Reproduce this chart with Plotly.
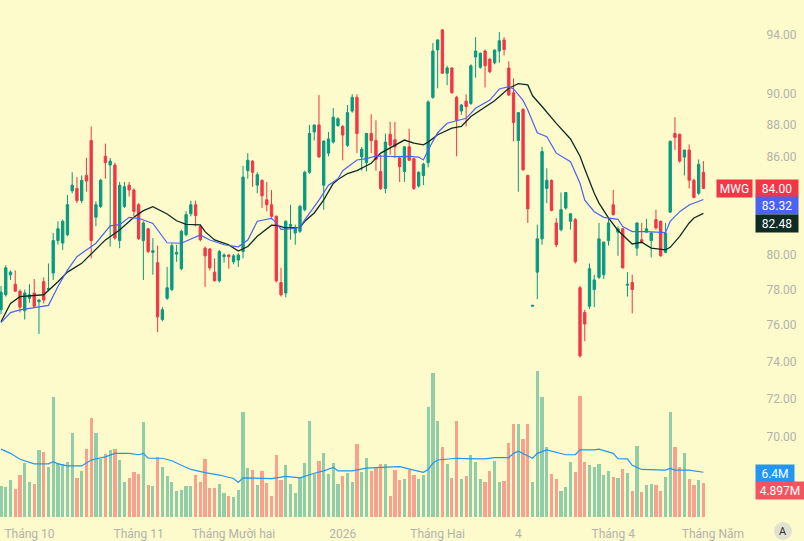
import math
import plotly.graph_objects as go

# ---------------- data ----------------
tick_pos = [6, 29, 49, 72, 92, 109, 129, 150]
tick_text = ["Tháng 10", "Tháng 11", "Tháng Mười hai", "2026", "Tháng Hai", "4", "Tháng 4", "Tháng Năm"]
price_ticks = [94, 90, 88, 86, 80, 78, 76, 74, 72, 70]

opens = [76.85, 77.7, 78.85, 78.3, 77.9, 76.8, 77.5, 77.8, 77.3, 78.45,
         78.0, 78.95, 80.85, 80.7, 81.2, 83.85, 84.0, 83.25, 84.8, 87.0,
         82.25, 82.9, 86.0, 85.45, 85.45, 80.85, 82.9, 84.2, 83.9, 83.0,
         80.85, 81.55, 80.15, 79.55, 76.3, 77.5, 78.0, 80.05, 79.2, 81.2,
         82.45, 83.0, 81.7, 80.4, 80.35, 79.0, 78.5, 79.9, 80.0, 79.6,
         79.7, 80.2, 85.1, 85.7, 84.2, 84.5, 83.3, 83.0, 82.3, 78.4,
         77.8, 81.7, 81.3, 81.4, 82.7, 85.0, 87.55, 88.0, 84.2, 86.2,
         86.9, 87.95, 87.9, 86.7, 88.9, 89.8, 85.96, 85.6, 87.45, 87.0,
         85.05, 84.0, 87.4, 87.05, 85.9, 85.05, 86.6, 85.85, 84.15, 84.8,
         85.6, 89.8, 92.97, 94.35, 91.4, 91.75, 89.8, 88.9, 89.55, 89.4,
         92.5, 91.8, 92.9, 92.35, 92.1, 92.9, 93.65, 91.75, 90.1, 87.0,
         89.0, 84.8, 77.05, 79.0, 80.95, 84.0, 84.5, 81.9, 81.5, 82.8,
         82.0, 82.1, 78.1, 76.7, 77.05, 78.0, 78.7, 78.85, 80.85, 83.0,
         81.35, 81.55, 78.25, 78.4, 80.4, 80.9, 81.35, 80.85, 82.1, 82.0,
         80.15, 82.55, 87.45, 87.4, 85.95, 86.4, 84.5, 83.7, 85.0]
highs = [78.2, 79.4, 79.1, 79.1, 78.0, 78.0, 78.3, 78.6, 77.45, 78.7,
         79.5, 81.3, 82.0, 82.1, 83.6, 85.0, 84.7, 84.8, 85.9, 87.9,
         83.2, 84.6, 86.8, 85.9, 85.6, 84.4, 84.4, 84.4, 84.0, 83.1,
         82.0, 81.6, 81.0, 80.55, 77.0, 79.3, 80.7, 80.6, 81.5, 82.6,
         83.25, 83.25, 81.8, 80.5, 80.4, 79.8, 80.3, 80.1, 80.05, 80.05,
         80.1, 85.4, 86.2, 85.75, 85.0, 84.55, 84.4, 83.9, 82.35, 79.25,
         82.05, 83.0, 81.8, 83.0, 85.1, 88.0, 88.0, 89.95, 87.0, 87.55,
         89.1, 88.5, 88.0, 89.3, 90.0, 90.0, 86.6, 87.5, 88.7, 88.3,
         86.1, 87.45, 88.2, 88.2, 86.0, 86.65, 87.75, 85.9, 85.05, 85.6,
         89.6, 93.45, 93.7, 94.4, 91.9, 91.8, 89.9, 89.35, 90.0, 92.0,
         93.85, 92.8, 93.0, 92.4, 93.0, 94.2, 93.85, 92.2, 91.05, 88.8,
         89.1, 84.85, 77.1, 81.8, 86.6, 85.25, 84.55, 82.2, 83.75, 83.75,
         82.5, 82.2, 78.2, 76.85, 79.5, 78.85, 81.9, 80.8, 82.25, 83.9,
         81.7, 81.6, 79.0, 78.85, 81.95, 81.9, 82.15, 81.35, 82.7, 82.05,
         81.9, 87.0, 88.5, 87.45, 86.4, 86.75, 84.6, 85.8, 85.7]
lows = [76.6, 77.6, 78.55, 77.9, 76.7, 76.3, 77.25, 77.0, 75.5, 77.2,
        78.0, 78.55, 80.6, 80.3, 81.1, 83.7, 83.1, 83.1, 83.8, 79.8,
        81.7, 82.8, 84.6, 80.5, 80.9, 80.4, 82.8, 83.5, 82.3, 80.9,
        78.55, 80.1, 78.85, 75.6, 76.2, 77.4, 77.9, 79.6, 79.1, 81.1,
        82.3, 81.7, 80.8, 78.15, 79.1, 78.45, 78.4, 79.55, 79.2, 79.45,
        79.3, 79.8, 84.6, 84.1, 83.7, 82.8, 82.6, 82.2, 78.4, 77.6,
        77.55, 80.9, 80.6, 81.3, 82.6, 84.9, 87.0, 85.9, 82.7, 86.0,
        86.8, 87.9, 85.75, 86.6, 88.8, 86.2, 85.1, 85.05, 86.2, 85.1,
        83.9, 83.7, 86.1, 85.9, 84.4, 84.4, 85.7, 83.9, 84.05, 84.2,
        85.3, 89.7, 90.4, 91.35, 90.6, 90.05, 86.0, 88.65, 87.9, 89.3,
        91.1, 91.7, 90.45, 91.4, 92.0, 92.1, 92.6, 89.9, 86.95, 83.8,
        85.1, 81.9, 77.05, 77.45, 80.6, 83.1, 82.6, 80.45, 81.4, 82.7,
        81.5, 79.5, 74.2, 75.1, 76.9, 77.0, 78.6, 78.6, 80.55, 82.35,
        79.95, 79.2, 77.6, 76.65, 79.95, 80.7, 81.3, 79.85, 81.5, 79.9,
        80.1, 82.5, 86.4, 85.6, 84.8, 84.0, 83.4, 83.6, 84.0]
closes = [77.85, 79.25, 79.0, 77.9, 77.0, 77.8, 77.7, 77.05, 77.4, 77.4,
          78.05, 80.85, 81.55, 82.0, 83.0, 84.2, 83.25, 84.5, 84.45, 80.85,
          83.0, 84.5, 85.6, 85.7, 81.0, 84.2, 84.1, 83.9, 82.6, 80.95,
          81.9, 80.2, 80.25, 76.45, 76.85, 78.1, 80.55, 80.15, 81.4, 82.4,
          83.0, 82.35, 80.9, 79.95, 79.25, 78.5, 80.2, 80.0, 79.9, 79.95,
          80.0, 84.7, 85.75, 85.0, 84.85, 83.55, 83.0, 82.3, 78.5, 77.7,
          82.0, 81.8, 81.6, 82.9, 85.0, 87.45, 88.0, 85.96, 86.97, 87.1,
          88.5, 88.4, 87.35, 88.8, 89.8, 87.45, 86.45, 87.45, 87.0, 85.8,
          84.0, 86.9, 86.7, 86.6, 85.35, 86.6, 85.75, 84.0, 85.0, 85.5,
          89.5, 92.9, 93.66, 91.4, 91.75, 90.1, 88.3, 89.3, 89.2, 91.9,
          92.9, 92.75, 91.9, 91.5, 92.97, 93.6, 93.0, 89.95, 88.15, 88.8,
          85.15, 82.75, 77.1, 80.95, 86.3, 84.5, 82.65, 80.6, 82.7, 83.75,
          82.45, 79.6, 74.3, 76.05, 79.2, 78.55, 80.95, 80.75, 81.9, 82.4,
          81.55, 79.25, 78.3, 78.0, 81.9, 80.75, 81.55, 81.3, 81.6, 79.95,
          81.3, 86.95, 87.2, 85.7, 86.4, 84.5, 83.45, 85.5, 84.0]
volumes = [4.4, 4.3, 5.3, 4.0, 6.0, 7.7, 5.0, 4.7, 9.6, 9.3,
           7.2, 17.2, 7.7, 7.6, 7.9, 12.0, 5.6, 6.6, 9.7, 14.2,
           12.0, 8.3, 9.0, 9.6, 9.7, 8.2, 5.0, 5.6, 6.4, 6.1,
           13.6, 4.6, 4.4, 8.6, 7.2, 5.9, 5.0, 3.7, 3.9, 4.4,
           4.4, 6.0, 5.0, 8.3, 4.1, 4.1, 4.7, 3.4, 3.0, 2.9,
           3.9, 15.0, 7.0, 6.7, 4.6, 6.6, 4.9, 3.0, 8.9, 5.3,
           7.4, 4.7, 3.4, 5.6, 7.7, 13.7, 6.1, 8.0, 9.2, 6.1,
           7.7, 4.7, 5.9, 6.3, 5.0, 10.4, 6.4, 8.4, 6.6, 7.0,
           7.6, 7.6, 3.0, 6.7, 5.3, 5.4, 6.7, 6.0, 5.4, 6.0,
           15.7, 20.6, 13.7, 10.0, 7.6, 5.6, 13.7, 5.4, 5.9, 8.9,
           7.9, 5.4, 5.0, 6.6, 8.0, 5.0, 5.1, 10.6, 13.3, 13.3,
           11.2, 13.3, 5.0, 20.9, 17.2, 10.0, 6.1, 5.4, 3.7, 4.3,
           7.9, 6.4, 17.3, 7.9, 7.4, 7.2, 7.6, 6.0, 6.6, 5.7,
           5.6, 6.9, 6.3, 3.7, 10.2, 3.6, 4.6, 4.7, 4.6, 3.7,
           5.7, 15.0, 10.0, 7.2, 9.2, 5.4, 4.6, 5.3, 4.897]

ma_fast_idx = [0, 2, 4, 7, 10, 12, 14, 16, 18, 20, 23, 25, 27, 29, 32, 35, 38, 40, 42, 44,
               47, 50, 52, 54, 57, 58, 59, 61, 63, 64, 66, 67, 69, 71, 72, 75, 77, 79, 83, 86,
               88, 89, 90, 92, 94, 96, 98, 100, 103, 105, 107, 108, 110, 111, 113, 115, 117, 120, 122, 123,
               125, 127, 129, 130, 131, 133, 136, 139, 140, 141, 143, 145, 147, 148]
ma_fast = [76.13, 76.69, 76.84, 76.99, 77.1, 78.17, 79.12, 79.9, 80.29, 80.69, 81.73, 81.8, 82.24, 82.18, 81.87, 80.72, 80.69, 80.93, 81.18, 80.88,
           80.6, 80.48, 80.88, 82.0, 82.18, 81.91, 81.52, 81.54, 81.64, 82.08, 82.88, 83.28, 84.2, 84.6, 85.1, 85.77, 85.85, 86.02, 85.98, 86.0,
           85.95, 85.77, 86.4, 87.5, 88.11, 88.27, 88.43, 89.08, 89.62, 90.35, 90.5, 90.35, 89.6, 88.97, 87.5, 87.25, 86.2, 85.66, 84.32, 83.28,
           82.58, 82.24, 82.18, 82.12, 81.68, 81.38, 81.38, 81.33, 81.32, 82.0, 82.58, 82.99, 83.2, 83.32]

ma_slow_idx = [0, 2, 4, 7, 9, 12, 14, 17, 19, 22, 25, 28, 30, 32, 35, 37, 39, 42, 43, 45,
               48, 50, 52, 54, 57, 58, 60, 63, 64, 66, 68, 70, 71, 73, 75, 78, 80, 83, 85, 87,
               89, 90, 92, 95, 97, 99, 103, 104, 107, 109, 111, 112, 114, 117, 120, 121, 122, 123, 125, 126,
               128, 130, 133, 135, 137, 140, 141, 143, 145, 146, 148]
ma_slow = [76.18, 77.21, 77.59, 77.64, 77.7, 78.45, 79.0, 79.51, 80.05, 80.89, 81.48, 82.24, 82.64, 82.88, 82.44, 82.03, 81.82, 81.78, 81.38, 80.89,
           80.59, 80.23, 80.5, 81.1, 81.77, 81.75, 81.6, 81.64, 82.0, 82.5, 83.3, 84.3, 84.55, 84.92, 85.1, 85.56, 86.2, 86.73, 87.03, 86.83,
           86.73, 86.9, 87.37, 87.8, 87.9, 88.55, 89.4, 89.57, 90.4, 90.7, 90.62, 89.9, 89.2, 88.1, 87.1, 86.5, 86.0, 85.2, 83.7, 83.1,
           82.2, 81.45, 80.65, 80.75, 80.4, 80.3, 80.45, 81.1, 81.9, 82.2, 82.48]

vol_ma_idx = [0, 2, 4, 7, 10, 11, 12, 14, 17, 19, 22, 24, 27, 29, 30, 31, 34, 36, 38, 40,
              43, 46, 49, 50, 51, 55, 57, 60, 63, 66, 68, 70, 71, 74, 77, 80, 84, 87, 89, 90,
              91, 92, 94, 96, 98, 102, 104, 107, 108, 109, 112, 113, 115, 117, 119, 121, 122, 125, 126, 129,
              130, 132, 133, 135, 138, 140, 141, 142, 145, 147, 148]
vol_ma = [9.7, 9.1, 8.25, 7.6, 7.6, 7.9, 7.6, 7.3, 7.3, 8.15, 8.6, 9.1, 9.1, 8.9, 9.1, 8.4, 8.4, 8.05, 7.4, 6.8,
          6.35, 6.0, 5.5, 4.95, 5.6, 5.5, 5.5, 5.8, 5.6, 6.25, 6.6, 7.1, 6.6, 6.6, 7.0, 7.1, 7.2, 6.7, 6.4, 6.8,
          7.7, 8.15, 8.3, 8.4, 8.35, 8.3, 8.5, 8.5, 9.1, 9.4, 8.4, 9.1, 9.6, 9.2, 8.9, 8.9, 9.6, 9.6, 9.7, 9.1,
          8.35, 8.3, 7.4, 6.8, 6.7, 6.7, 6.95, 6.7, 6.7, 6.5, 6.4]

symbol = "MWG"

# ---------------- styling ----------------
BG = "#FDFACB"
UP = "#089981"
DN = "#F23645"
UP_VOL = "rgba(8,153,129,0.45)"
DN_VOL = "rgba(242,54,69,0.45)"
FAST_C = "#4B63F2"
SLOW_C = "#0E2B24"
VOLMA_C = "#2196F3"
AXIS_TXT = "#B3B3AC"
FONT = "Roboto"

n = len(closes)
idx = list(range(n))
vol_colors = [UP_VOL if c >= o else DN_VOL for o, c in zip(opens, closes)]

fig = go.Figure()

fig.add_trace(go.Bar(x=idx, y=volumes, marker=dict(color=vol_colors, line=dict(width=0)),
                     width=0.68, yaxis="y", hoverinfo="skip", showlegend=False))
fig.add_trace(go.Scatter(x=vol_ma_idx, y=vol_ma, mode="lines", yaxis="y",
                         line=dict(color=VOLMA_C, width=1.2), showlegend=False))

fig.add_trace(go.Candlestick(
    x=idx, open=opens, high=highs, low=lows, close=closes, yaxis="y2",
    increasing=dict(line=dict(color=UP, width=1), fillcolor=UP),
    decreasing=dict(line=dict(color=DN, width=1), fillcolor=DN),
    whiskerwidth=0, showlegend=False))

fig.add_trace(go.Scatter(x=ma_slow_idx, y=ma_slow, mode="lines", yaxis="y2",
                         line=dict(color=SLOW_C, width=1.3), showlegend=False))
fig.add_trace(go.Scatter(x=ma_fast_idx, y=ma_fast, mode="lines", yaxis="y2",
                         line=dict(color=FAST_C, width=1.2), showlegend=False))

W, H = 804, 541
ML, MR, MT, MB = 0, 49, 0, 24
plot_w = W - ML - MR
plot_h = H - MT - MB
vol_top = plot_h * 0.143

last_close = closes[-1]
last_vol = volumes[-1]
last_fast = ma_fast[-1]
last_slow = ma_slow[-1]
last_volma = vol_ma[-1]

fig.add_shape(type="line", xref="paper", yref="y2", x0=0, x1=0.949,
              y0=math.log10(last_close), y1=math.log10(last_close),
              line=dict(color=DN, width=1, dash="dot"))

ann = []
def tag(text, yval, bg, yref="y2", yshift=0, width=38, x=1.0, xanchor="left", xshift=0):
    yy = math.log10(yval) if yref == "y2" else yval
    ann.append(dict(text=text, x=x, xref="paper", xanchor=xanchor, xshift=xshift,
                    y=yy, yref=yref, yanchor="middle", yshift=yshift,
                    showarrow=False, bgcolor=bg, width=width, height=13, borderpad=2,
                    font=dict(family=FONT, size=12, color="white"), align="center"))

tag(symbol, last_close, DN, width=31, xanchor="right", xshift=-2)
tag(f"{last_close:.2f}", last_close, DN)
tag(f"{last_fast:.2f}", last_fast, FAST_C, yshift=-6)
tag(f"{last_slow:.2f}", last_slow, SLOW_C, yshift=-10)
tag(f"{last_volma:.1f}M", last_volma, VOLMA_C, yref="y", yshift=-1, width=34)
tag(f"{last_vol:.3f}M", last_vol, "#F7525F", yref="y", yshift=-8, width=44)

# small "A" (auto-scale) button in the bottom-right corner
fig.add_shape(type="circle", xref="paper", yref="paper",
              x0=774 / plot_w, x1=792 / plot_w,
              y0=-(540 - plot_h) / plot_h, y1=-(522 - plot_h) / plot_h,
              fillcolor="#E2E0CE", line=dict(width=0), layer="below")
ann.append(dict(text="A", x=783 / plot_w, xref="paper", xanchor="center",
                y=-(531 - plot_h) / plot_h, yref="paper", yanchor="middle",
                showarrow=False, font=dict(family=FONT, size=11, color="#333333")))

fig.update_layout(
    width=W, height=H, margin=dict(l=ML, r=MR, t=MT, b=MB),
    paper_bgcolor=BG, plot_bgcolor=BG, showlegend=False,
    annotations=ann, bargap=0,
    xaxis=dict(range=[-0.211, 158.87], tickvals=tick_pos, ticktext=tick_text,
               showgrid=False, zeroline=False, showline=False,
               ticks="outside", ticklen=6, tickcolor=BG,
               tickfont=dict(family=FONT, size=12, color=AXIS_TXT),
               rangeslider=dict(visible=False), fixedrange=True),
    yaxis=dict(range=[0, vol_top], visible=False, fixedrange=True),
    yaxis2=dict(type="log", overlaying="y", side="right",
                range=[math.log10(66.02), math.log10(96.44)],
                tickvals=price_ticks, ticktext=[f"{v:.2f}" for v in price_ticks],
                showgrid=False, zeroline=False, showline=False,
                ticks="outside", ticklen=8, tickcolor=BG,
                tickfont=dict(family=FONT, size=12, color=AXIS_TXT), fixedrange=True),
)

fig.write_html("out.html")
